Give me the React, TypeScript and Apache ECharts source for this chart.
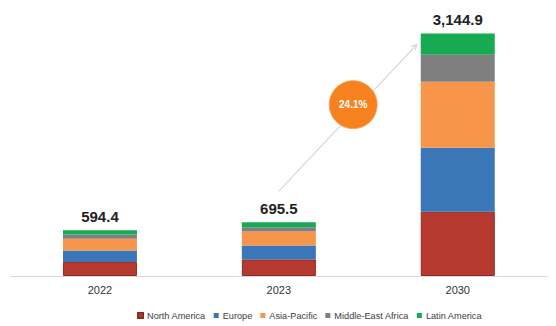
import React, { useEffect, useRef } from "react";
import * as echarts from "echarts";

const categories = ["2022", "2023", "2030"];
const seriesNames = ["North America", "Europe", "Asia-Pacific", "Middle-East Africa", "Latin America"];
const northAmerica = [180, 214.5, 833];
const europe = [152, 181, 829];
const asiaPacific = [150, 181, 855];
const middleEastAfrica = [56, 57, 350];
const latinAmerica = [56.4, 62, 277.9];
const totalLabels = ["594.4", "695.5", "3,144.9"];
const cagrLabel = "24.1%";
// arrow annotation anchors (category index, value)
const arrowStart: [number, number] = [1, 1100];
const arrowEnd: [number, number] = [2, 3000];

const colors = ["#B5392F", "#3B76B8", "#F7964A", "#7F7F7F", "#17AA52"];

export default function App() {
  const ref = useRef<HTMLDivElement>(null);
  useEffect(() => {
    document.body.style.margin = "0";
    if (!ref.current) return;
    const chart = echarts.init(ref.current, null, { renderer: "svg" });
    const values = [northAmerica, europe, asiaPacific, middleEastAfrica, latinAmerica];
    const font = "Liberation Sans, Arial, sans-serif";
    const series: any[] = values.map((v, i) => ({
      name: seriesNames[i],
      type: "bar",
      stack: "total",
      data: v,
      barWidth: 74,
      itemStyle: {
        color: colors[i],
        borderColor: i === 0 ? "#8E2A22" : colors[i],
        borderWidth: i === 0 ? 1 : 0,
      },
      label:
        i === values.length - 1
          ? {
              show: true,
              position: "top",
              distance: 6,
              formatter: (p: any) => totalLabels[p.dataIndex],
              fontSize: 15,
              fontWeight: "bold",
              color: "#222",
              fontFamily: font,
            }
          : { show: false },
    }));
    chart.setOption({
      animation: false,
      grid: { left: 10.5, right: 8.8, top: 6, bottom: 50 },
      xAxis: {
        type: "category",
        data: categories,
        axisLine: { lineStyle: { color: "#D9D9D9", width: 1 } },
        axisTick: { show: false },
        axisLabel: { color: "#333", fontSize: 11, margin: 8, fontFamily: font },
      },
      yAxis: {
        type: "value",
        min: 0,
        max: 3500,
        show: false,
        splitLine: { show: false },
      },
      legend: {
        data: seriesNames,
        left: 132,
        top: 306,
        itemWidth: 5,
        itemHeight: 5,
        itemGap: 8,
        icon: "rect",
        textStyle: { fontSize: 9.2, color: "#404040", fontFamily: font, padding: [0, 0, 0, -1] },
      },
      series,
    });
    const s = chart.convertToPixel({ seriesIndex: 0 }, arrowStart) as number[];
    const eCenter = chart.convertToPixel({ seriesIndex: 0 }, arrowEnd) as number[];
    const e = [eCenter[0] - 41, eCenter[1]];
    const ang = Math.atan2(e[1] - s[1], e[0] - s[0]);
    const ah = 6;
    const a1 = [e[0] - ah * Math.cos(ang - 0.5), e[1] - ah * Math.sin(ang - 0.5)];
    const a2 = [e[0] - ah * Math.cos(ang + 0.5), e[1] - ah * Math.sin(ang + 0.5)];
    const t = 0.59;
    const cx = s[0] + (e[0] - s[0]) * t - 7;
    const cy = s[1] + (e[1] - s[1]) * t;
    chart.setOption({
      graphic: [
        {
          type: "line",
          shape: { x1: s[0], y1: s[1], x2: e[0], y2: e[1] },
          style: { stroke: "#D6D6D6", lineWidth: 1.2 },
          z: 1,
        },
        {
          type: "polyline",
          shape: { points: [a1, e, a2] },
          style: { stroke: "#D6D6D6", lineWidth: 1.2, fill: null },
          z: 1,
        },
        {
          type: "circle",
          shape: { cx, cy, r: 24 },
          style: { fill: "#F5821F", stroke: "#F9A65E", lineWidth: 1 },
          z: 2,
        },
        {
          type: "text",
          x: cx,
          y: cy,
          style: {
            text: cagrLabel,
            fill: "#fff",
            fontSize: 10,
            fontWeight: "bold",
            fontFamily: font,
            align: "center",
            verticalAlign: "middle",
          },
          z: 3,
        },
      ],
    });
    return () => chart.dispose();
  }, []);
  return <div ref={ref} style={{ width: 556, height: 326 }} />;
}
